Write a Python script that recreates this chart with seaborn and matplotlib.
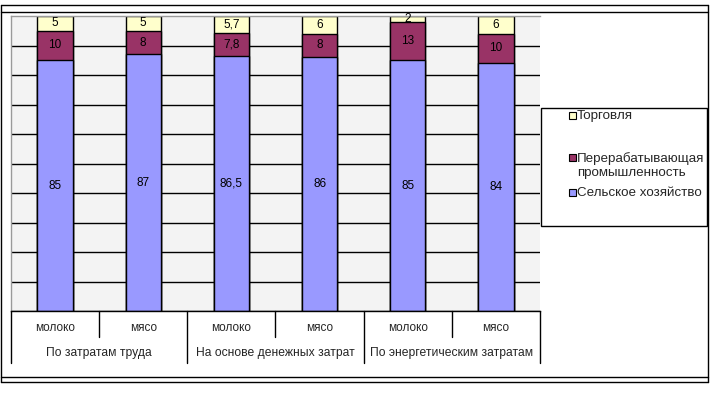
import numpy as np
import pandas as pd
import matplotlib.pyplot as plt
import matplotlib.transforms as mtransforms
from matplotlib.lines import Line2D
from matplotlib.patches import Rectangle
import seaborn as sns

# ----------------------------------------------------------------------------
# Данные
# ----------------------------------------------------------------------------
groups = ["По затратам труда", "На основе денежных затрат", "По энергетическим затратам"]
products = ["молоко", "мясо"]
agriculture = [85, 87, 86.5, 86, 85, 84]
processing = [10, 8, 7.8, 8, 13, 10]
trade = [5, 5, 5.7, 6, 2, 6]
series_names = ["Торговля", "Перерабатывающая\nпромышленность", "Сельское хозяйство"]
series_colors = ["#FFFFCC", "#993366", "#9999FF"]

df = pd.DataFrame({
    "group": np.repeat(groups, len(products)),
    "product": products * len(groups),
    "agri": agriculture,
    "proc": processing,
    "trade": trade,
})
df["bar"] = df["group"] + " | " + df["product"]
df["lower"] = df["agri"] + df["proc"]
df["total"] = df["lower"] + df["trade"]

# ----------------------------------------------------------------------------
# Оформление
# ----------------------------------------------------------------------------
sns.set_style("white")
plt.rcParams["font.family"] = ["Liberation Sans", "DejaVu Sans"]

W, H = 710, 397
fig = plt.figure(figsize=(W / 100, H / 100), dpi=100)
ax = fig.add_axes([11 / W, 1 - 311 / H, (540 - 11) / W, (311 - 16) / H])
ax.set_facecolor("#F3F3F3")

# накопленные столбцы: сверху вниз рисуем суммы, чтобы получить стек
for col, colr in zip(["total", "lower", "agri"], series_colors):
    sns.barplot(data=df, x="bar", y=col, order=df["bar"], color=colr,
                saturation=1, width=0.4, edgecolor="black", linewidth=1,
                errorbar=None, ax=ax)

ax.set_ylim(0, 100)
ax.set_xlim(-0.5, len(df) - 0.5)
ax.set_yticks(np.arange(0, 100, 10))
ax.set_axisbelow(True)
ax.grid(axis="y", color="black", lw=1)
ax.grid(axis="x", visible=False)
ax.tick_params(left=False, bottom=False, labelleft=False, labelbottom=False)
ax.set_xlabel("")
ax.set_ylabel("")
for s in ["top", "left"]:
    ax.spines[s].set_color("#9A9A9A")
    ax.spines[s].set_linewidth(1)
ax.spines["right"].set_visible(False)
ax.spines["bottom"].set_color("black")
ax.spines["bottom"].set_linewidth(1)


def fmt(v):
    return f"{v:g}".replace(".", ",")


for i, row in df.reset_index(drop=True).iterrows():
    segs = [(0, row["agri"]), (row["agri"], row["proc"]), (row["lower"], row["trade"])]
    for bottom, val in segs:
        ax.text(i, bottom + val / 2, fmt(val), ha="center", va="center",
                fontsize=8.5, color="black")

# двухуровневая подпись категорий
trans = mtransforms.blended_transform_factory(ax.transData, fig.transFigure)
for i, prod in enumerate(df["product"]):
    ax.text(i, 1 - 328 / H, prod, transform=trans, ha="center", va="center",
            fontsize=8.5)
for g, name in enumerate(groups):
    ax.text(2 * g + 0.5, 1 - 353 / H, name, transform=trans, ha="center",
            va="center", fontsize=8.7)
    fig.add_artist(Line2D([2 * g + 0.5] * 2, [1 - 311 / H, 1 - 337 / H],
                          transform=trans, color="black", lw=1))
for xb in np.arange(-0.5, len(df), 2):
    fig.add_artist(Line2D([xb] * 2, [1 - 311 / H, 1 - 363 / H],
                          transform=trans, color="black", lw=1))

# рамка
fx = lambda x: x / W
fy = lambda y: 1 - y / H
for y in [5, 12, 377, 382]:
    fig.add_artist(Line2D([fx(0.5), fx(708)], [fy(y)] * 2,
                          transform=fig.transFigure, color="black", lw=1))
for x in [0.5, 708]:
    fig.add_artist(Line2D([fx(x)] * 2, [fy(5), fy(382)],
                          transform=fig.transFigure, color="black", lw=1))

# легенда
fig.add_artist(Rectangle((fx(541), fy(226)), (707 - 541) / W, (226 - 108) / H,
                         transform=fig.transFigure, facecolor="white",
                         edgecolor="black", lw=1))
clip = mtransforms.TransformedBbox(
    mtransforms.Bbox.from_extents(fx(541), fy(226), fx(706), fy(108)),
    fig.transFigure)
for name, colr, y in zip(series_names, series_colors, [115, 157, 192]):
    fig.add_artist(Rectangle((fx(568.5), fy(y + 3.5)), 7 / W, 7 / H,
                             transform=fig.transFigure, facecolor=colr,
                             edgecolor="black", lw=0.8))
    t = fig.text(fx(577), fy(y - 5), name, ha="left", va="top", fontsize=9.6,
                 linespacing=1.2)
    t.set_clip_box(clip)
    t.set_clip_on(True)

fig.savefig("out.png", dpi=100)
